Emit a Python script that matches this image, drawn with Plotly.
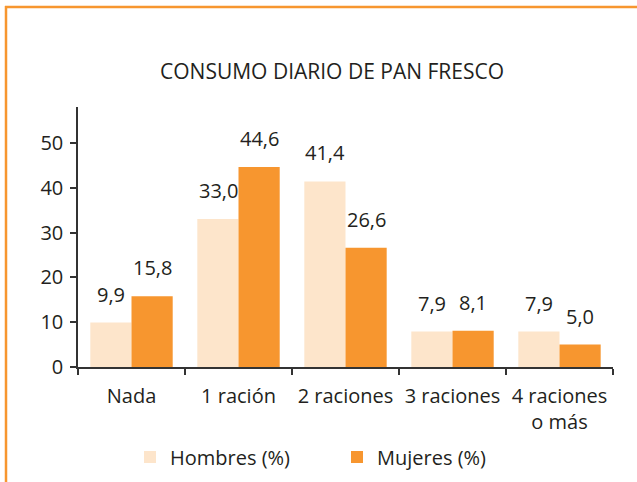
import plotly.graph_objects as go

categories = ["Nada", "1 ración", "2 raciones", "3 raciones", "4 raciones<br>o más"]
hombres = [9.9, 33.0, 41.4, 7.9, 7.9]
mujeres = [15.8, 44.6, 26.6, 8.1, 5.0]
series_names = ["Hombres (%)", "Mujeres (%)"]
y_ticks = [0, 10, 20, 30, 40, 50]
title_text = "CONSUMO DIARIO DE PAN FRESCO"

W, H = 637, 482
ML, MR, MT, MB = 78, 24, 107, 115
PW, PH = W - ML - MR, H - MT - MB

FONT = "Open Sans, sans-serif"
TXT = "#231f20"
LIGHT = "#fde5cb"
ORANGE = "#f7962f"

def px_x(p):
    return (p - ML) / PW

def px_y(p):
    return (H - MB - p) / PH

fig = go.Figure()
fig.add_trace(go.Bar(x=categories, y=hombres, name=series_names[0],
                     marker=dict(color=LIGHT, line=dict(width=0))))
fig.add_trace(go.Bar(x=categories, y=mujeres, name=series_names[1],
                     marker=dict(color=ORANGE, line=dict(width=0))))

annotations = []
for vals, shift in ((hombres, -20.5), (mujeres, 20.5)):
    for c, v in zip(categories, vals):
        annotations.append(dict(
            x=c, y=v, xref="x", yref="y", text=f"{v:.1f}".replace(".", ","),
            showarrow=False, xshift=shift, yshift=13, yanchor="bottom",
            font=dict(family=FONT, size=20, color=TXT)))

fig.update_layout(
    width=W, height=H,
    margin=dict(l=ML, r=MR, t=MT, b=MB, autoexpand=False),
    paper_bgcolor="white", plot_bgcolor="white",
    barmode="group", bargap=0.23, bargroupgap=0,
    separators=",.",
    font=dict(family=FONT, size=19, color=TXT),
    title=dict(text=title_text, x=332 / W, xref="container", xanchor="center",
               y=1 - 72 / H, yref="container", yanchor="middle",
               font=dict(family=FONT, size=21, color=TXT)),
    xaxis=dict(showline=True, linecolor="#333333", linewidth=1.5,
               ticks="outside", tickson="boundaries", ticklen=6, tickwidth=1.5,
               tickcolor="#333333", showgrid=False, zeroline=False,
               ticklabelstandoff=10,
               tickfont=dict(family=FONT, size=20, color=TXT)),
    yaxis=dict(range=[0, 58], tickvals=y_ticks, showline=True, linecolor="#333333",
               linewidth=1.5, ticks="outside", ticklen=6, tickwidth=1.5,
               tickcolor="#333333", showgrid=False, zeroline=False,
               ticklabelstandoff=3,
               tickfont=dict(family=FONT, size=20, color=TXT)),
    showlegend=True,
    legend=dict(orientation="h", xref="container", yref="container",
                x=337 / W, xanchor="center", y=1 - 457 / H, yanchor="middle",
                entrywidth=162, font=dict(family=FONT, size=20, color=TXT),
                traceorder="normal"),
    annotations=annotations,
    shapes=[
        dict(type="line", xref="paper", yref="paper", x0=px_x(5), x1=px_x(640),
             y0=px_y(7), y1=px_y(7), line=dict(color=ORANGE, width=2.5)),
        dict(type="line", xref="paper", yref="paper", x0=px_x(6), x1=px_x(6),
             y0=px_y(6), y1=px_y(490), line=dict(color=ORANGE, width=2.5)),
    ],
)

fig.write_html("out.html", config={"displayModeBar": False},
               post_script="document.body.style.margin='0';")
